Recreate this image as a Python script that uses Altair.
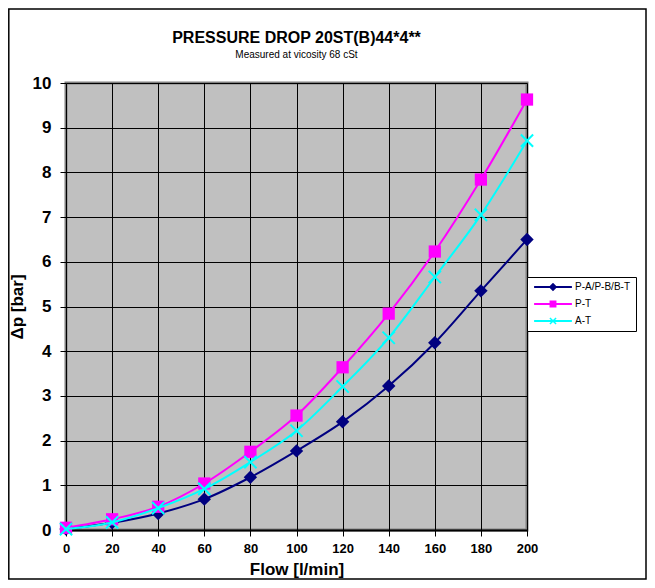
import altair as alt
import pandas as pd

flow = [0, 20, 40, 60, 80, 100, 120, 140, 160, 180, 200]
series_names = ["P-A/P-B/B-T", "P-T", "A-T"]
pab = [0.02, 0.16, 0.37, 0.69, 1.18, 1.77, 2.42, 3.22, 4.19, 5.35, 6.50]
pt = [0.05, 0.24, 0.52, 1.04, 1.75, 2.56, 3.64, 4.84, 6.23, 7.84, 9.63]
at = [0.02, 0.17, 0.49, 0.92, 1.52, 2.22, 3.21, 4.30, 5.66, 7.05, 8.71]
colors = ["#000080", "#FF00FF", "#00FFFF"]
x_ticks = [0, 20, 40, 60, 80, 100, 120, 140, 160, 180, 200]
y_ticks = [0, 1, 2, 3, 4, 5, 6, 7, 8, 9, 10]

rows = []
for name, vals in zip(series_names, [pab, pt, at]):
    for f, v in zip(flow, vals):
        rows.append({"flow": f, "dp": v, "series": name})
df = pd.DataFrame(rows)

FONT = "Liberation Sans"
W, H = 461, 447

xenc = alt.X("flow:Q", scale=alt.Scale(domain=[0, 200], nice=False),
             axis=alt.Axis(values=x_ticks, title="Flow [l/min]", grid=True,
                           gridColor="black", gridWidth=1, gridOpacity=1,
                           domain=True, domainColor="black", domainWidth=2,
                           tickColor="black", tickSize=6, tickWidth=1,
                           labelFontSize=13, labelFontWeight="bold", labelColor="black",
                           labelPadding=6, titleFontSize=17, titleFontWeight="bold",
                           titleColor="black", titlePadding=6, labelFlush=False))
yenc = alt.Y("dp:Q", scale=alt.Scale(domain=[0, 10], nice=False),
             axis=alt.Axis(values=y_ticks, title="Δp [bar]", grid=True,
                           gridColor="black", gridWidth=1, gridOpacity=1,
                           domain=False, tickColor="black", tickSize=6, tickWidth=1,
                           labelFontSize=17, labelFontWeight="bold", labelColor="black",
                           labelPadding=9, titleFontSize=17, titleFontWeight="bold",
                           titleColor="black", titlePadding=6, labelFlush=False))

point_shapes = ["diamond", "square", "M-1,-1L1,1M-1,1L1,-1"]
point_sizes = [180, 150, 150]
point_filled = [True, True, False]

layers = []
for i, name in enumerate(series_names):
    base = alt.Chart(df).transform_filter(alt.datum.series == name)
    line = base.mark_line(strokeWidth=2, interpolate="monotone", color=colors[i]).encode(
        x=xenc if i == 0 else alt.X("flow:Q"), y=yenc if i == 0 else alt.Y("dp:Q"))
    pts = base.mark_point(shape=point_shapes[i], filled=point_filled[i], size=point_sizes[i],
                          strokeWidth=2, opacity=1, color=colors[i]).encode(
        x="flow:Q", y="dp:Q")
    layers.append(line)
    layers.append(pts)

legend_paths = [
    "M-6.3,-0.33H6.3V0.33H-6.3Z M0,-1.4L1.4,0L0,1.4L-1.4,0Z",
    "M-6.3,-0.33H6.3V0.33H-6.3Z M-1.15,-1.15H1.15V1.15H-1.15Z",
    "M-6.3,-0.33H6.3V0.33H-6.3Z M-1.2,-0.85L-0.85,-1.2L1.2,0.85L0.85,1.2Z M-1.2,0.85L0.85,-1.2L1.2,-0.85L-0.85,1.2Z",
]
leg = alt.Legend(orient="none", legendX=W, legendY=194,
                 fillColor="white", strokeColor="black", padding=5,
                 symbolSize=36, symbolOffset=16, symbolOpacity=1, symbolStrokeWidth=0,
                 labelOffset=17, labelFontSize=10, labelColor="black",
                 rowPadding=7)
legend_layer = alt.Chart(df).mark_point(filled=True, opacity=1).encode(
    x="flow:Q", y="dp:Q",
    size=alt.value(0),
    fill=alt.Fill("series:N", scale=alt.Scale(domain=series_names, range=colors), legend=leg, title=""),
    shape=alt.Shape("series:N", scale=alt.Scale(domain=series_names, range=legend_paths), legend=leg, title=""),
)

frame = alt.Chart(pd.DataFrame({"a": [0]})).mark_rect(
    fill=None, stroke="black", strokeWidth=1.5).encode(
    x=alt.value(-57.2), x2=alt.value(580), y=alt.value(-74), y2=alt.value(496))

chart = alt.layer(frame, *layers, legend_layer).properties(
    width=W, height=H,
    title=alt.TitleParams(text="PRESSURE DROP 20ST(B)44*4**",
                          subtitle="Measured at vicosity 68 cSt",
                          anchor="middle", frame="group", fontSize=16, fontWeight="bold", color="black",
                          font=FONT, subtitleFont=FONT, subtitleFontSize=10,
                          subtitleColor="black", subtitlePadding=4, offset=22, dy=74),
    autosize=alt.AutoSizeParams(type="none"),
    padding={"left": 58, "top": 75, "right": 120, "bottom": 50},
).configure(font=FONT, background="white").configure_view(
    fill="#C0C0C0", stroke="#808080", strokeWidth=3
).configure_axis(labelFont=FONT, titleFont=FONT).configure_legend(labelFont=FONT)

chart.save("out.html", embed_options={"renderer": "svg", "actions": False})
